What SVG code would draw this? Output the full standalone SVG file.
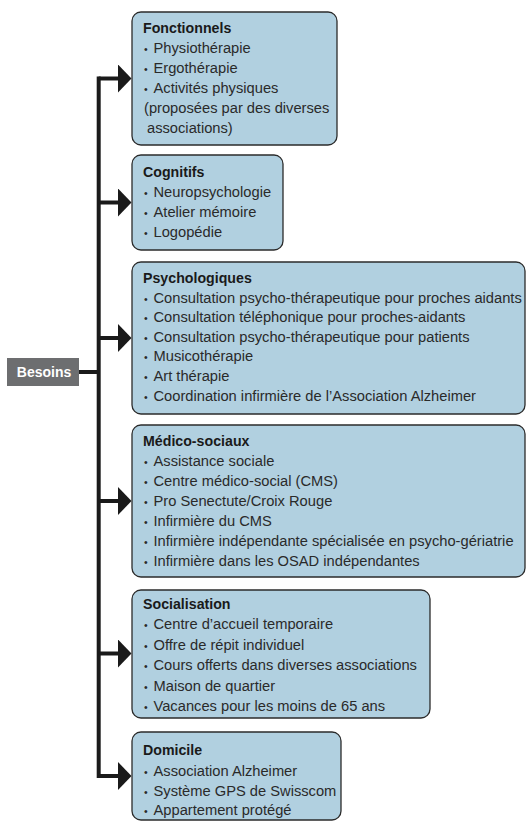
<svg xmlns="http://www.w3.org/2000/svg" width="528" height="822" viewBox="0 0 528 822">
<defs>
<style>
.box{fill:#b1d0e0;stroke:#2b2b2b;stroke-width:1.3}
.t{font-family:"Liberation Sans",Arial,sans-serif;font-weight:bold;font-size:14.2px;fill:#1a1a1a}
.i{font-family:"Liberation Sans",Arial,sans-serif;font-size:14.7px;fill:#2a2a2a}
.b{font-size:10.5px}
.ln{fill:none;stroke:#1a1a1a;stroke-width:4}
</style>
<marker id="ah" markerUnits="userSpaceOnUse" markerWidth="14" markerHeight="28" refX="0" refY="14" orient="auto" viewBox="0 0 14 28">
<path d="M0 0 L13.5 14 L0 28Z" fill="#1a1a1a"/>
</marker>
</defs>
<rect width="528" height="822" fill="#ffffff"/>
<g id="connectors">
<path class="ln" d="M98.7 78.5 V776" stroke-linecap="square"/>
<path class="ln" d="M79 372 H98.7"/>
<path class="ln" d="M98.7 78.5 H118" marker-end="url(#ah)"/>
<path class="ln" d="M98.7 202.5 H118" marker-end="url(#ah)"/>
<path class="ln" d="M98.7 338 H118" marker-end="url(#ah)"/>
<path class="ln" d="M98.7 501 H118" marker-end="url(#ah)"/>
<path class="ln" d="M98.7 653.5 H118" marker-end="url(#ah)"/>
<path class="ln" d="M98.7 776 H118" marker-end="url(#ah)"/>
</g>
<g id="besoins">
<rect x="7" y="358" width="72" height="28" fill="#6d6e70"/>
<text x="44" y="377" text-anchor="middle" font-family="Liberation Sans,Arial,sans-serif" font-weight="bold" font-size="14" fill="#ffffff">Besoins</text>
</g>
<g id="fonctionnels">
<rect class="box" x="132" y="12" width="205" height="133" rx="9"/>
<text class="t" x="143" y="33">Fonctionnels</text>
<text class="i" y="53"><tspan class="b" x="144">•</tspan><tspan x="153.5">Physiothérapie</tspan></text>
<text class="i" y="73"><tspan class="b" x="144">•</tspan><tspan x="153.5">Ergothérapie</tspan></text>
<text class="i" y="93"><tspan class="b" x="144">•</tspan><tspan x="153.5">Activités physiques</tspan></text>
<text class="i" x="144" y="113">(proposées par des diverses</text>
<text class="i" x="147" y="133">associations)</text>
</g>
<g id="cognitifs">
<rect class="box" x="132" y="155" width="151" height="95" rx="9"/>
<text class="t" x="143" y="177">Cognitifs</text>
<text class="i" y="197"><tspan class="b" x="144">•</tspan><tspan x="153.5">Neuropsychologie</tspan></text>
<text class="i" y="217"><tspan class="b" x="144">•</tspan><tspan x="153.5">Atelier mémoire</tspan></text>
<text class="i" y="237"><tspan class="b" x="144">•</tspan><tspan x="153.5">Logopédie</tspan></text>
</g>
<g id="psychologiques">
<rect class="box" x="132" y="262" width="393" height="152" rx="9"/>
<text class="t" x="143" y="283">Psychologiques</text>
<text class="i" y="302.6"><tspan class="b" x="144">•</tspan><tspan x="153.5">Consultation psycho-thérapeutique pour proches aidants</tspan></text>
<text class="i" y="322.2"><tspan class="b" x="144">•</tspan><tspan x="153.5">Consultation téléphonique pour proches-aidants</tspan></text>
<text class="i" y="341.8"><tspan class="b" x="144">•</tspan><tspan x="153.5">Consultation psycho-thérapeutique pour patients</tspan></text>
<text class="i" y="361.4"><tspan class="b" x="144">•</tspan><tspan x="153.5">Musicothérapie</tspan></text>
<text class="i" y="381"><tspan class="b" x="144">•</tspan><tspan x="153.5">Art thérapie</tspan></text>
<text class="i" y="400.6"><tspan class="b" x="144">•</tspan><tspan x="153.5">Coordination infirmière de l’Association Alzheimer</tspan></text>
</g>
<g id="medico-sociaux">
<rect class="box" x="132" y="425" width="393" height="152" rx="9"/>
<text class="t" x="143" y="446">Médico-sociaux</text>
<text class="i" y="466"><tspan class="b" x="144">•</tspan><tspan x="153.5">Assistance sociale</tspan></text>
<text class="i" y="486"><tspan class="b" x="144">•</tspan><tspan x="153.5">Centre médico-social (CMS)</tspan></text>
<text class="i" y="506"><tspan class="b" x="144">•</tspan><tspan x="153.5">Pro Senectute/Croix Rouge</tspan></text>
<text class="i" y="526"><tspan class="b" x="144">•</tspan><tspan x="153.5">Infirmière du CMS</tspan></text>
<text class="i" y="546"><tspan class="b" x="144">•</tspan><tspan x="153.5">Infirmière indépendante spécialisée en psycho-gériatrie</tspan></text>
<text class="i" y="566"><tspan class="b" x="144">•</tspan><tspan x="153.5">Infirmière dans les OSAD indépendantes</tspan></text>
</g>
<g id="socialisation">
<rect class="box" x="132" y="590" width="298" height="128" rx="9"/>
<text class="t" x="143" y="609">Socialisation</text>
<text class="i" y="629.4"><tspan class="b" x="144">•</tspan><tspan x="153.5">Centre d’accueil temporaire</tspan></text>
<text class="i" y="649.8"><tspan class="b" x="144">•</tspan><tspan x="153.5">Offre de répit individuel</tspan></text>
<text class="i" y="670.2"><tspan class="b" x="144">•</tspan><tspan x="153.5">Cours offerts dans diverses associations</tspan></text>
<text class="i" y="690.6"><tspan class="b" x="144">•</tspan><tspan x="153.5">Maison de quartier</tspan></text>
<text class="i" y="711"><tspan class="b" x="144">•</tspan><tspan x="153.5">Vacances pour les moins de 65 ans</tspan></text>
</g>
<g id="domicile">
<rect class="box" x="132" y="732" width="209" height="88" rx="9"/>
<text class="t" x="143" y="755">Domicile</text>
<text class="i" y="775.5"><tspan class="b" x="144">•</tspan><tspan x="153.5">Association Alzheimer</tspan></text>
<text class="i" y="795.5"><tspan class="b" x="144">•</tspan><tspan x="153.5">Système GPS de Swisscom</tspan></text>
<text class="i" y="815"><tspan class="b" x="144">•</tspan><tspan x="153.5">Appartement protégé</tspan></text>
</g>
</svg>
